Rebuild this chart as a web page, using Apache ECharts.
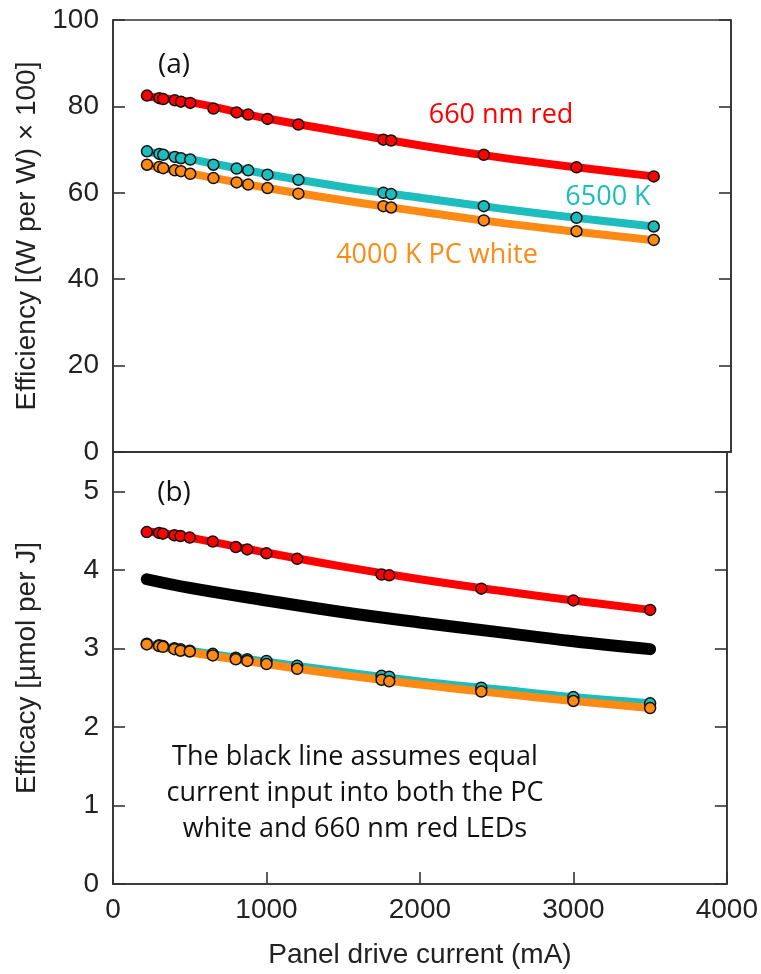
<!DOCTYPE html>
<html>
<head>
<meta charset="utf-8">
<script src="https://cdn.jsdelivr.net/npm/echarts@6/dist/echarts.min.js"></script>
<style>html,body{margin:0;padding:0;background:#fff;}#c{width:761px;height:974px;}</style>
</head>
<body>
<div id="c"></div>
<script>
// Measured drive currents (mA)
const xPts = [220, 300, 325, 400, 440, 500, 650, 800, 875, 1000, 1200, 1750, 1800, 2400, 3000, 3500];
// (a) Efficiency, (W per W) x 100
const effRed    = [82.5, 81.9, 81.7, 81.4, 81.1, 80.8, 79.5, 78.6, 78.1, 77.1, 75.8, 72.3, 72.1, 68.8, 65.9, 63.8];
const effCyan   = [69.6, 69.0, 68.8, 68.3, 68.0, 67.7, 66.5, 65.6, 65.2, 64.2, 63.0, 60.0, 59.7, 56.9, 54.2, 52.2];
const effOrange = [66.5, 66.0, 65.7, 65.2, 65.0, 64.4, 63.4, 62.4, 61.9, 61.1, 59.8, 56.9, 56.6, 53.6, 51.1, 49.1];
// (b) Efficacy, umol per J
const efcRed    = [4.48, 4.47, 4.46, 4.44, 4.43, 4.41, 4.36, 4.29, 4.26, 4.21, 4.14, 3.94, 3.93, 3.76, 3.61, 3.49];
const efcCyan   = [3.06, 3.04, 3.03, 3.00, 2.99, 2.97, 2.93, 2.88, 2.86, 2.84, 2.78, 2.65, 2.64, 2.50, 2.38, 2.30];
const efcOrange = [3.05, 3.03, 3.02, 2.99, 2.97, 2.96, 2.91, 2.86, 2.84, 2.80, 2.74, 2.60, 2.58, 2.45, 2.33, 2.24];
// Fitted curves
const xFit = [220, 500, 1000, 1500, 2000, 2500, 3000, 3500];
const fitEffRed    = [82.3, 81.0, 77.2, 74.0, 70.9, 68.2, 65.9, 63.8];
const fitEffCyan   = [69.5, 67.8, 64.3, 61.3, 58.8, 56.4, 54.2, 52.2];
const fitEffOrange = [66.4, 64.5, 61.1, 58.2, 55.6, 53.1, 51.0, 49.0];
const fitEfcRed    = [4.49, 4.41, 4.22, 4.04, 3.88, 3.74, 3.61, 3.49];
const fitEfcCyan   = [3.06, 2.97, 2.83, 2.70, 2.58, 2.48, 2.38, 2.30];
const fitEfcOrange = [3.05, 2.95, 2.80, 2.66, 2.54, 2.43, 2.33, 2.24];
const fitEfcBlack  = [3.88, 3.77, 3.61, 3.46, 3.33, 3.21, 3.09, 2.99];
// Axis tick labels
const xTickLabels = ['0', '1000', '2000', '3000', '4000'];
const effTickLabels = ['0', '20', '40', '60', '80', '100'];
const efcTickLabels = ['0', '1', '2', '3', '4', '5'];

const RED = '#ff0000', CYAN = '#1dbdbd', ORANGE = '#fd8a14', BLACK = '#000000';
const AX = '#333333';
const FONT = 'Liberation Sans';
const FS = 28;

const zip = (xs, ys) => xs.map((x, i) => [x, ys[i]]);

function lineS(grid, xs, ys, color, w) {
  return { type: 'line', xAxisIndex: grid, yAxisIndex: grid * 2, data: zip(xs, ys), smooth: 0.4,
    symbol: 'none', lineStyle: { color: color, width: w, cap: 'round' }, silent: true, z: 2 };
}
function dotS(grid, xs, ys, color) {
  return { type: 'scatter', xAxisIndex: grid, yAxisIndex: grid * 2, data: zip(xs, ys), symbol: 'circle',
    symbolSize: 11, itemStyle: { color: color, borderColor: '#111', borderWidth: 1.5, opacity: 1 }, silent: true, z: 3 };
}
function labelFrom(list, step) {
  return function (v) {
    const i = Math.round(v / step);
    return (Math.abs(i * step - v) < 1e-6 && i < list.length) ? list[i] : '';
  };
}

const chart = echarts.init(document.getElementById('c'), null, { renderer: 'canvas' });

const yLeft = (grid, min, max, interval, name, labels) => ({
  type: 'value', gridIndex: grid, position: 'left', min: min, max: max, interval: interval,
  name: name, nameLocation: 'middle', nameGap: 72, nameRotate: 90,
  nameTextStyle: { fontFamily: FONT, fontSize: FS, color: '#222' },
  axisLine: { show: true, lineStyle: { color: AX, width: 1.6 } },
  axisTick: { show: true, inside: true, length: 12, lineStyle: { color: AX, width: 1.6 } },
  axisLabel: { fontFamily: FONT, fontSize: FS, color: '#222', margin: 14, showMaxLabel: true,
    formatter: labelFrom(labels, interval) },
  splitLine: { show: false }
});
const yRight = (grid, min, max, interval) => ({
  type: 'value', gridIndex: grid, position: 'right', min: min, max: max, interval: interval,
  axisLine: { show: true, lineStyle: { color: AX, width: 1.6 } },
  axisTick: { show: true, inside: true, length: 12, lineStyle: { color: AX, width: 1.6 } },
  axisLabel: { show: false }, splitLine: { show: false }
});

const option = {
  animation: false,
  backgroundColor: '#ffffff',
  grid: [
    { left: 113, right: 30, top: 20, height: 432, show: true, borderColor: AX, borderWidth: 1.6 },
    { left: 113, right: 30, top: 452, height: 432, show: true, borderColor: AX, borderWidth: 1.6 }
  ],
  xAxis: [
    { type: 'value', gridIndex: 0, min: 0, max: 4000, interval: 1000,
      axisLine: { show: true, lineStyle: { color: AX, width: 1.6 } }, axisTick: { show: false },
      axisLabel: { show: false }, splitLine: { show: false } },
    { type: 'value', gridIndex: 1, min: 0, max: 4000, interval: 1000,
      name: 'Panel drive current (mA)', nameLocation: 'middle', nameGap: 57,
      nameTextStyle: { fontFamily: FONT, fontSize: FS, color: '#222' },
      axisLine: { show: true, lineStyle: { color: AX, width: 1.6 } },
      axisTick: { show: true, inside: true, length: 12, lineStyle: { color: AX, width: 1.6 } },
      axisLabel: { fontFamily: FONT, fontSize: FS, color: '#222', margin: 12, formatter: labelFrom(xTickLabels, 1000) },
      splitLine: { show: false } }
  ],
  yAxis: [
    yLeft(0, 0, 100, 20, 'Efficiency [(W per W) \u00d7 100]', effTickLabels),
    yRight(0, 0, 100, 20),
    yLeft(1, 0, 5.5, 1, 'Efficacy [\u00b5mol per J]', efcTickLabels),
    yRight(1, 0, 5.5, 1)
  ],
  series: [
    lineS(0, xFit, fitEffRed, RED, 8),
    lineS(0, xFit, fitEffCyan, CYAN, 8),
    lineS(0, xFit, fitEffOrange, ORANGE, 8),
    dotS(0, xPts, effRed, RED),
    dotS(0, xPts, effCyan, CYAN),
    dotS(0, xPts, effOrange, ORANGE),
    lineS(1, xFit, fitEfcCyan, CYAN, 8),
    lineS(1, xFit, fitEfcOrange, ORANGE, 8),
    lineS(1, xFit, fitEfcRed, RED, 8),
    lineS(1, xFit, fitEfcBlack, BLACK, 12),
    dotS(1, xPts, efcCyan, CYAN),
    dotS(1, xPts, efcOrange, ORANGE),
    dotS(1, xPts, efcRed, RED)
  ],
  graphic: [
    { type: 'text', x: 174, y: 65, style: { text: '(a)', fontFamily: 'Open Sans', fontSize: 28, fill: '#111', align: 'center', verticalAlign: 'middle' } },
    { type: 'text', x: 174, y: 493, style: { text: '(b)', fontFamily: 'Open Sans', fontSize: 28, fill: '#111', align: 'center', verticalAlign: 'middle' } },
    { type: 'text', x: 501, y: 115, style: { text: '660 nm red', fontFamily: 'Open Sans', fontSize: 27, fill: RED, align: 'center', verticalAlign: 'middle' } },
    { type: 'text', x: 608, y: 197, style: { text: '6500 K', fontFamily: 'Open Sans', fontSize: 27, fill: CYAN, align: 'center', verticalAlign: 'middle' } },
    { type: 'text', x: 437, y: 255, style: { text: '4000 K PC white', fontFamily: 'Open Sans', fontSize: 27, fill: ORANGE, align: 'center', verticalAlign: 'middle' } },
    { type: 'text', x: 355, y: 793, style: { text: 'The black line assumes equal\ncurrent input into both the PC\nwhite and 660 nm red LEDs', fontFamily: 'Open Sans', fontSize: 27, lineHeight: 36, fill: '#111', align: 'center', verticalAlign: 'middle' } }
  ]
};
chart.setOption(option);
</script>
</body>
</html>
